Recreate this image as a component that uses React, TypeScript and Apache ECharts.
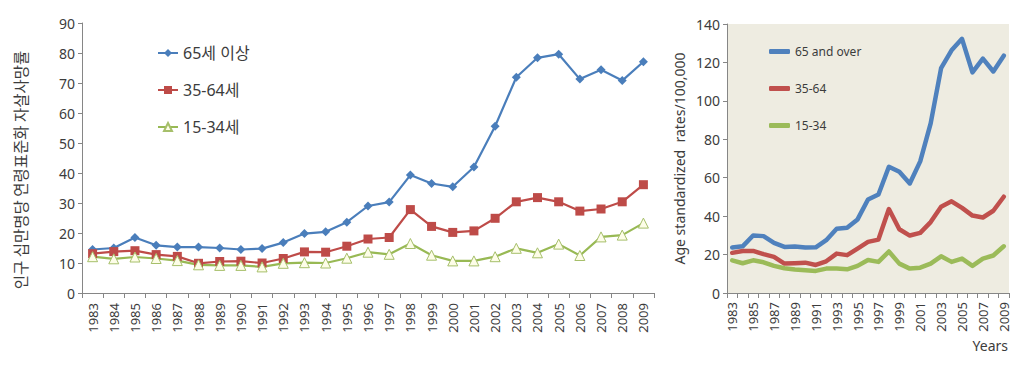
import React, { useEffect, useRef } from "react";
import * as echarts from "echarts";

const years = [
  "1983","1984","1985","1986","1987","1988","1989","1990","1991","1992","1993","1994","1995",
  "1996","1997","1998","1999","2000","2001","2002","2003","2004","2005","2006","2007","2008","2009",
];

// Left chart (Korean)
const krNames = ["65세 이상", "35-64세", "15-34세"];
const kr65 = [14.5,15.0,18.5,15.9,15.3,15.3,15.0,14.5,14.8,16.8,19.8,20.4,23.6,29.0,30.3,39.3,36.5,35.4,42.0,55.6,71.9,78.4,79.6,71.3,74.4,70.8,77.1];
const kr35 = [13.1,13.8,14.1,12.8,12.2,9.9,10.5,10.6,10.0,11.5,13.7,13.6,15.6,18.0,18.5,27.8,22.2,20.2,20.7,24.9,30.4,31.8,30.4,27.3,28.0,30.4,36.1];
const kr15 = [12.1,11.4,12.0,11.5,10.8,9.4,9.2,9.2,8.7,9.9,10.1,10.0,11.6,13.6,12.9,16.5,12.6,10.7,10.7,12.1,14.9,13.4,16.3,12.5,18.7,19.3,23.3];

// Right chart (English)
const enNames = ["65 and over", "35-64", "15-34"];
const en65 = [23.7,24.3,29.9,29.6,26.1,24.0,24.2,23.7,23.8,27.5,33.4,33.9,38.3,48.7,51.3,65.7,63.1,57.0,68.5,88.3,117.0,126.3,132.3,114.8,122.0,115.3,123.5];
const en35 = [20.9,21.9,21.9,20.2,18.8,15.3,15.5,15.8,14.6,16.5,20.5,19.7,23.1,26.6,27.8,43.7,33.2,29.9,31.3,36.9,44.9,47.7,44.3,40.3,39.3,42.8,50.1];
const en15 = [17.0,15.5,17.0,16.0,14.1,12.9,12.2,11.8,11.5,12.7,12.7,12.3,14.1,17.2,16.2,21.6,15.3,12.7,13.2,15.3,19.1,16.2,17.9,14.1,17.9,19.5,24.3];

const krYName = "인구 십만명당 연령표준화 자살사망률";
const enYName = "Age standardized  rates/100,000";
const enXName = "Years";

const FONT = "'Noto Sans', 'Noto Sans CJK KR', sans-serif";
const TXT = "#3c3c3c";
const AXIS = "#868686";

export default function App() {
  const ref = useRef<HTMLDivElement>(null);
  useEffect(() => {
    if (!ref.current) return;
    const chart = echarts.init(ref.current, undefined, { renderer: "svg" });
    const axisLine = { show: true, lineStyle: { color: AXIS, width: 1 } };
    const lblCommon = { color: TXT, fontFamily: FONT };
    chart.setOption({
      animation: false,
      backgroundColor: "#ffffff",
      textStyle: { fontFamily: FONT },
      grid: [
        { left: 82, top: 23, width: 572, height: 270, containLabel: false },
        { left: 727, top: 24, width: 282, height: 269, containLabel: false, show: true, backgroundColor: "#EEECE1", borderWidth: 0 },
      ],
      xAxis: [
        {
          type: "category", gridIndex: 0, data: years, boundaryGap: true,
          axisLine, axisTick: { show: true, length: 5, lineStyle: { color: AXIS } },
          axisLabel: { ...lblCommon, rotate: 90, fontSize: 13, margin: 10, interval: 0 },
        },
        {
          type: "category", gridIndex: 1, data: years, boundaryGap: true,
          axisLine, axisTick: { show: true, length: 5, interval: 0, lineStyle: { color: AXIS } },
          axisLabel: { ...lblCommon, rotate: 90, fontSize: 13, margin: 9, interval: 1 },
        },
      ],
      yAxis: [
        {
          type: "value", gridIndex: 0, min: 0, max: 90, interval: 10,
          axisLine, axisTick: { show: true, length: 4, lineStyle: { color: AXIS } },
          splitLine: { show: false },
          axisLabel: { ...lblCommon, fontSize: 14, margin: 7 },
        },
        {
          type: "value", gridIndex: 1, min: 0, max: 140, interval: 20,
          axisLine, axisTick: { show: true, length: 4, lineStyle: { color: AXIS } },
          splitLine: { show: false },
          axisLabel: { ...lblCommon, fontSize: 14, margin: 7 },
          name: enYName, nameLocation: "middle", nameGap: 41, nameRotate: 90,
          nameTextStyle: { color: TXT, fontSize: 14, fontFamily: FONT },
        },
      ],
      legend: [
        {
          data: krNames, orient: "vertical", left: 152, top: 37, itemGap: 15,
          itemWidth: 20, itemHeight: 10,
          textStyle: { color: TXT, fontSize: 16, fontFamily: FONT, lineHeight: 22 },
        },
        {
          data: enNames.map((n) => ({ name: n, icon: "roundRect" })),
          orient: "vertical", left: 764, top: 38, itemGap: 20,
          itemWidth: 21, itemHeight: 5,
          textStyle: { color: TXT, fontSize: 12, fontFamily: FONT, lineHeight: 17 },
        },
      ],
      graphic: [
        {
          type: "text", x: 20, y: 170, rotation: Math.PI / 2,
          style: {
            text: krYName, fill: TXT, fontSize: 15.5,
            fontFamily: "'Noto Sans CJK KR', sans-serif",
            textAlign: "center", textVerticalAlign: "middle",
          },
        },
        {
          type: "text", right: 1024 - 1008, top: 338,
          style: { text: enXName, fill: TXT, fontSize: 14, fontFamily: FONT },
        },
      ],
      series: [
        {
          name: krNames[0], type: "line", xAxisIndex: 0, yAxisIndex: 0, data: kr65,
          symbol: "diamond", symbolSize: 9, color: "#4A7EBB",
          lineStyle: { width: 2.2, color: "#4A7EBB" }, itemStyle: { color: "#4A7EBB" },
        },
        {
          name: krNames[1], type: "line", xAxisIndex: 0, yAxisIndex: 0, data: kr35,
          symbol: "rect", symbolSize: 9, color: "#BE4B48",
          lineStyle: { width: 2.2, color: "#BE4B48" }, itemStyle: { color: "#BE4B48" },
        },
        {
          name: krNames[2], type: "line", xAxisIndex: 0, yAxisIndex: 0, data: kr15,
          symbol: "triangle", symbolSize: 10, color: "#98B954",
          lineStyle: { width: 2.2, color: "#98B954" },
          itemStyle: { color: "#FDFDE8", borderColor: "#A6BF6A", borderWidth: 1 },
        },
        {
          name: enNames[0], type: "line", xAxisIndex: 1, yAxisIndex: 1, data: en65,
          symbol: "none", color: "#4F81BD",
          lineStyle: { width: 4.5, color: "#4F81BD", join: "round", cap: "round" },
        },
        {
          name: enNames[1], type: "line", xAxisIndex: 1, yAxisIndex: 1, data: en35,
          symbol: "none", color: "#C0504D",
          lineStyle: { width: 4.5, color: "#C0504D", join: "round", cap: "round" },
        },
        {
          name: enNames[2], type: "line", xAxisIndex: 1, yAxisIndex: 1, data: en15,
          symbol: "none", color: "#9BBB59",
          lineStyle: { width: 4.5, color: "#9BBB59", join: "round", cap: "round" },
        },
      ],
    });
    return () => chart.dispose();
  }, []);
  return (
    <div
      ref={ref}
      style={{ position: "fixed", left: 0, top: 0, width: 1024, height: 369, background: "#fff" }}
    />
  );
}
